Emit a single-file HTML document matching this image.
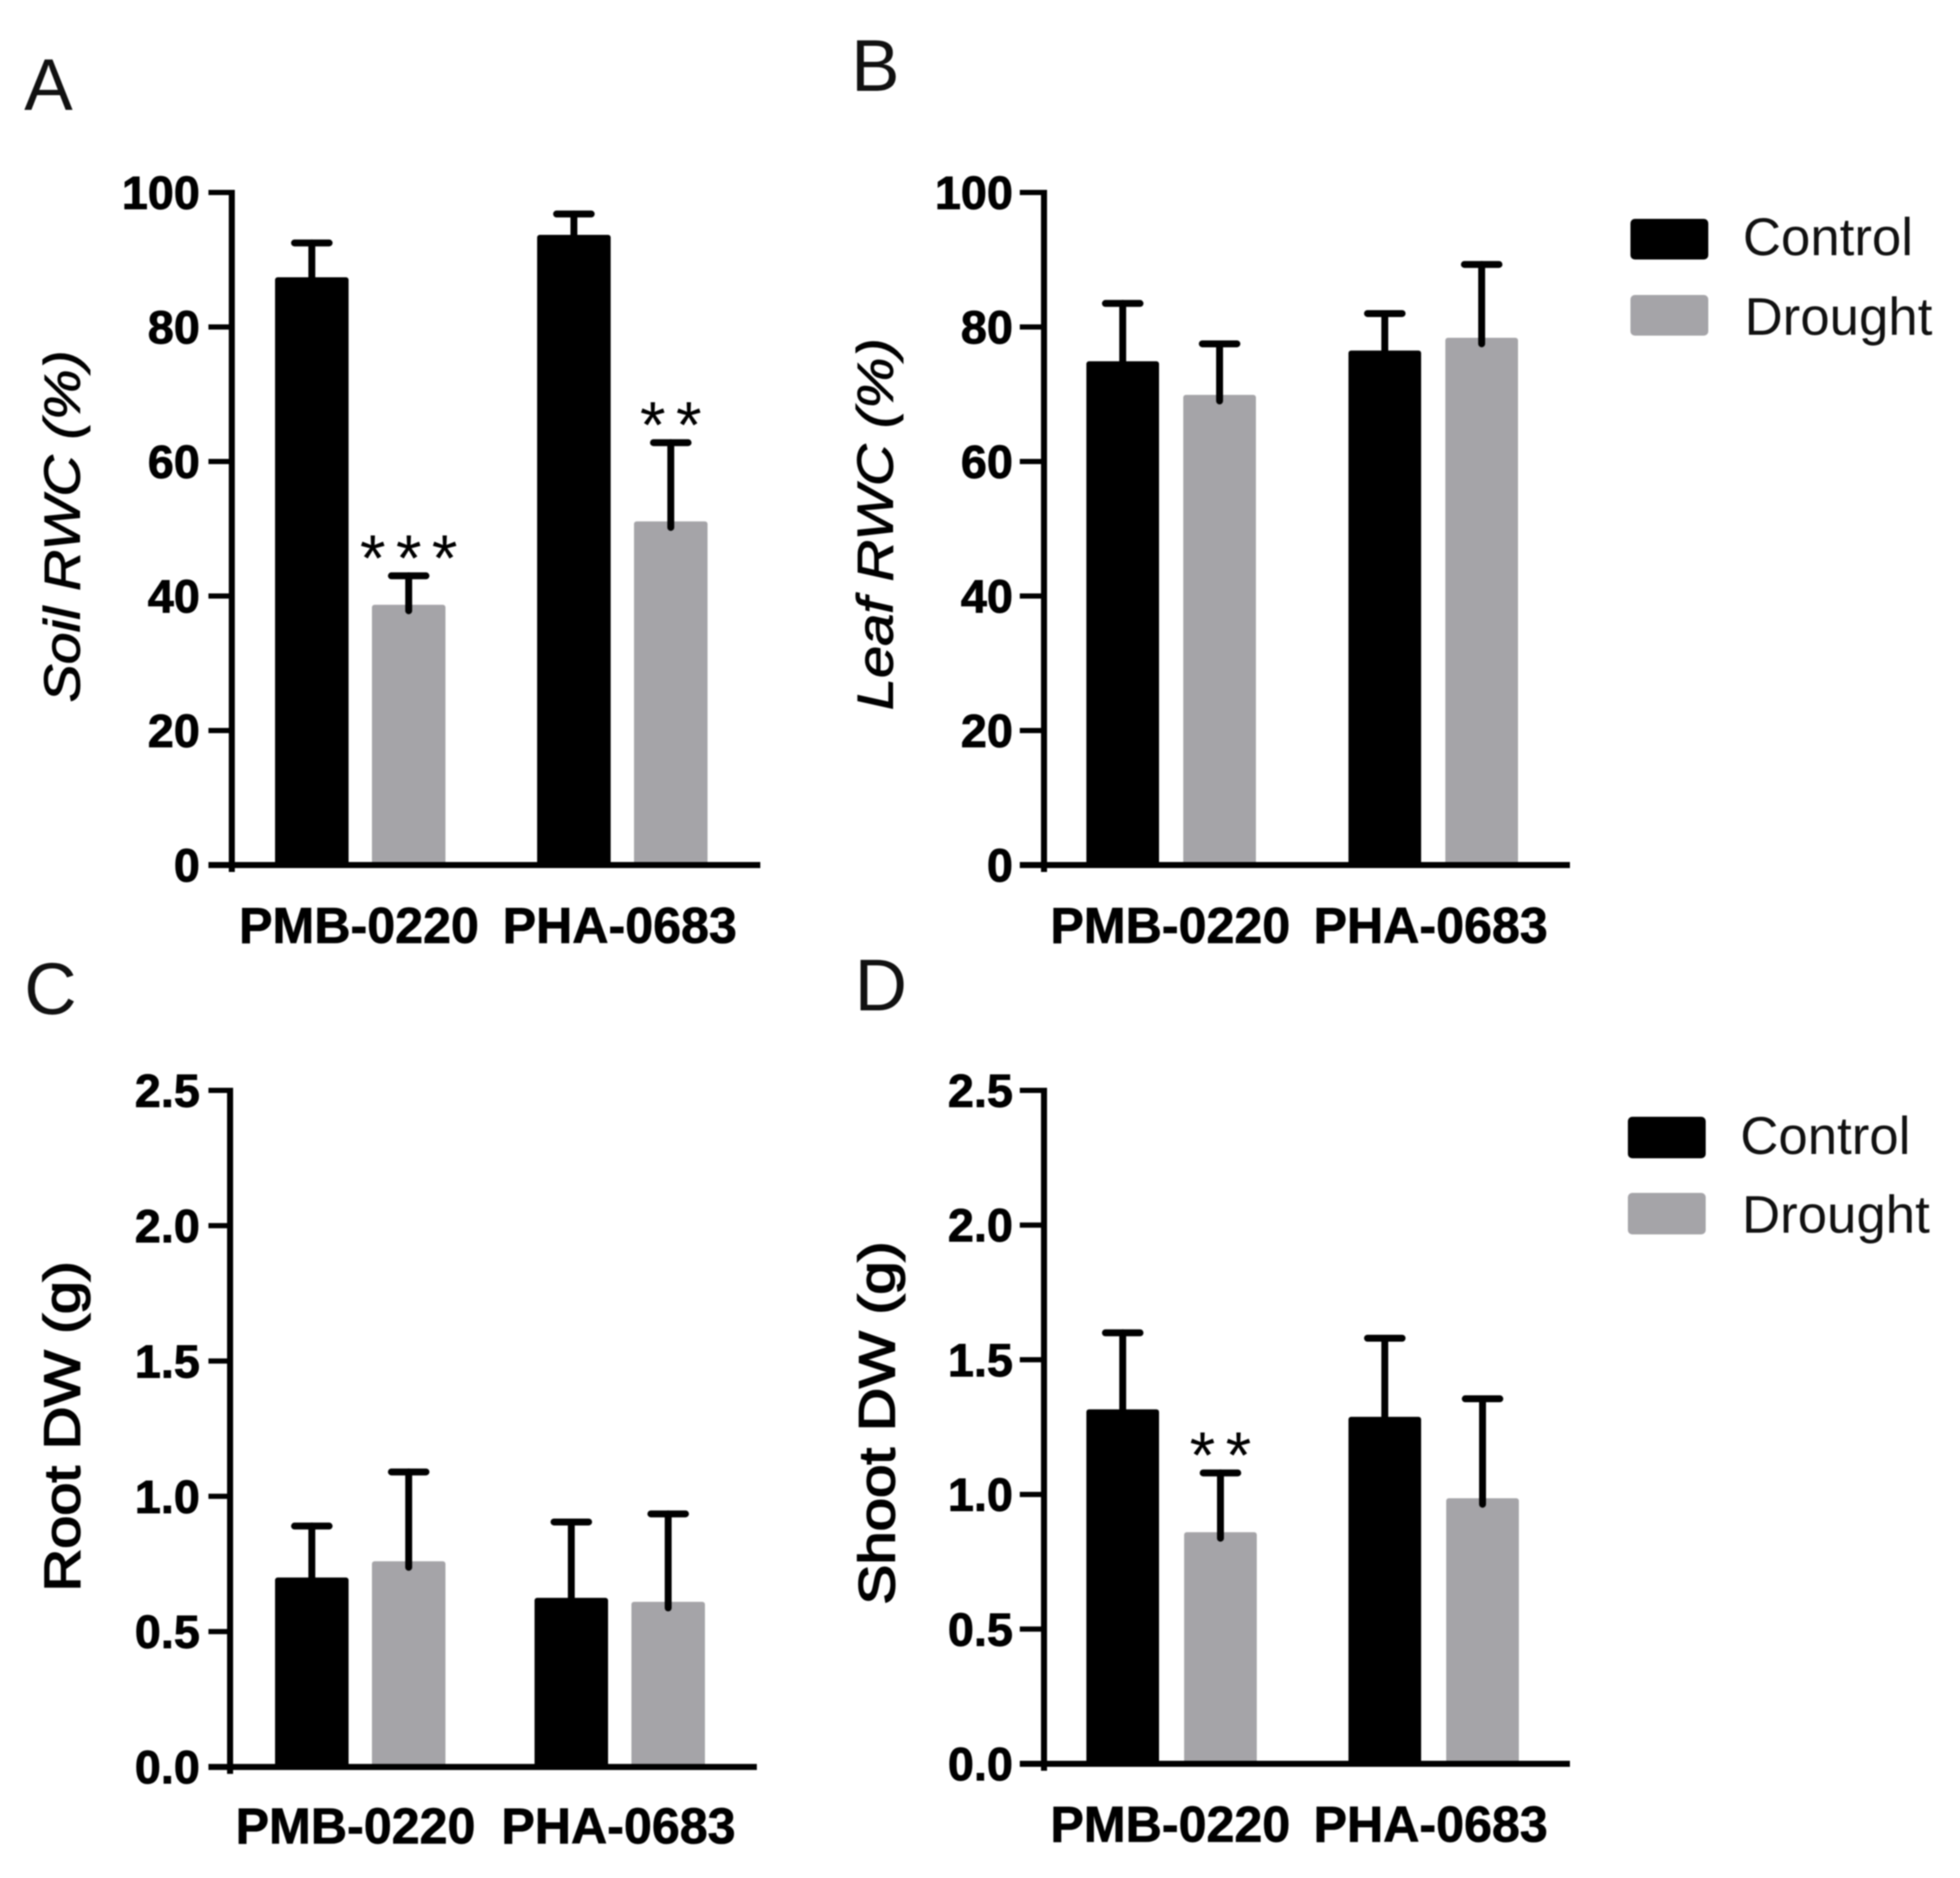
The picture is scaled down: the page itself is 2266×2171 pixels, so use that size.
<!DOCTYPE html>
<html lang="en">
<head>
<meta charset="utf-8">
<title>Soil RWC, Leaf RWC, Root DW and Shoot DW</title>
<style>
  html, body { margin: 0; padding: 0; background: #fff; }
  svg { display: block; filter: blur(0.7px); }
  text { font-family: "Liberation Sans", sans-serif; fill: #000; }
  .panel-letter { font-size: 84px; fill: #111; }
  .y-title { font-size: 58px; stroke: #000; stroke-width: 1px; }
  .y-title.heavy { stroke-width: 1.8px; }
  .legend-text { font-size: 61px; fill: #111; }
  .tick-label { font-size: 54px; font-weight: bold; text-anchor: end; stroke: #000; stroke-width: 1px; }
  .cat-label { font-size: 58px; font-weight: bold; text-anchor: middle; stroke: #000; stroke-width: 0.8px; }
  .star { font-size: 76px; text-anchor: middle; letter-spacing: 12px; }
</style>
</head>
<body>
<svg id="figure" xmlns="http://www.w3.org/2000/svg" width="2266" height="2171" viewBox="0 0 2266 2171">
  <rect x="0" y="0" width="2266" height="2171" fill="#fff"/>

  <text class="panel-letter" x="28" y="127">A</text>
  <text class="panel-letter" x="984" y="105">B</text>
  <text class="panel-letter" x="28" y="1172">C</text>
  <text class="panel-letter" x="988" y="1168">D</text>

  <text class="y-title" transform="translate(92 812) rotate(-90)" textLength="407" lengthAdjust="spacingAndGlyphs" font-style="italic">Soil RWC (%)</text>
  <text class="y-title" transform="translate(1032 821) rotate(-90)" textLength="430" lengthAdjust="spacingAndGlyphs" font-style="italic">Leaf RWC (%)</text>
  <text class="y-title heavy" transform="translate(92 1840) rotate(-90)" textLength="382" lengthAdjust="spacingAndGlyphs">Root DW (g)</text>
  <text class="y-title heavy" transform="translate(1034 1855) rotate(-90)" textLength="420" lengthAdjust="spacingAndGlyphs">Shoot DW (g)</text>

  <g>
    <rect x="1885" y="253" width="90" height="47" rx="5" fill="#000"/>
    <text class="legend-text" x="2015" y="295">Control</text>
    <rect x="1885" y="341" width="90" height="47" rx="5" fill="#a5a4a8"/>
    <text class="legend-text" x="2017" y="387">Drought</text>
  </g>
  <g>
    <rect x="1882" y="1291" width="90" height="48" rx="5" fill="#000"/>
    <text class="legend-text" x="2012" y="1334">Control</text>
    <rect x="1882" y="1379" width="90" height="48" rx="5" fill="#a5a4a8"/>
    <text class="legend-text" x="2014" y="1425">Drought</text>
  </g>
</svg>

<script>
// ---- Chart data ----
const categories = ['PMB-0220', 'PHA-0683'];

const rwcTicks = [0, 20, 40, 60, 80, 100];
const rwcTickLabels = ['0', '20', '40', '60', '80', '100'];
const dwTicks = [0, 0.5, 1, 1.5, 2, 2.5];
const dwTickLabels = ['0.0', '0.5', '1.0', '1.5', '2.0', '2.5'];

const soilControl = [87.4, 93.7];
const soilControlUpper = [92.5, 96.8];
const soilDrought = [38.7, 51.1];
const soilDroughtUpper = [43, 62.8];
const soilDroughtStars = ['***', '**'];

const leafControl = [74.9, 76.5];
const leafControlUpper = [83.5, 82];
const leafDrought = [69.9, 78.4];
const leafDroughtUpper = [77.5, 89.3];
const leafDroughtStars = ['', ''];

const rootControl = [0.70, 0.625];
const rootControlUpper = [0.89, 0.905];
const rootDrought = [0.76, 0.61];
const rootDroughtUpper = [1.09, 0.935];
const rootDroughtStars = ['', ''];

const shootControl = [1.316, 1.288];
const shootControlUpper = [1.60, 1.58];
const shootDrought = [0.86, 0.986];
const shootDroughtUpper = [1.08, 1.355];
const shootDroughtStars = ['**', ''];

// ---- Drawing ----
const SVG_NS = 'http://www.w3.org/2000/svg';
const figure = document.getElementById('figure');
const CONTROL_FILL = '#000';
const DROUGHT_FILL = '#a5a4a8';

function make(parent, tag, attrs, content) {
  const node = document.createElementNS(SVG_NS, tag);
  for (const key in attrs) node.setAttribute(key, attrs[key]);
  if (content !== undefined) node.textContent = content;
  parent.appendChild(node);
  return node;
}

function drawPanel(cfg) {
  const group = make(figure, 'g', {});
  
  

  const yScale = function (v) {
    return cfg.yZero + (cfg.yTop - cfg.yZero) * (v - cfg.domainMin) / (cfg.domainMax - cfg.domainMin);
  };
  const xBar = function (catIndex, seriesIndex) {
    return cfg.barStart + catIndex * cfg.groupStep + seriesIndex * cfg.barStep;
  };

  // bars first, axes on top
  const series = [
    { key: 'control', fill: CONTROL_FILL, values: cfg.control, upper: cfg.controlUpper, stars: ['', ''] },
    { key: 'drought', fill: DROUGHT_FILL, values: cfg.drought, upper: cfg.droughtUpper, stars: cfg.droughtStars }
  ];
  series.forEach(function (s, sIdx) {
    s.values.forEach(function (value, cIdx) {
      const left = xBar(cIdx, sIdx);
      const mid = left + cfg.barWidth / 2;
      const top = yScale(value);
      const whisker = yScale(s.upper[cIdx]);

      const bar = make(group, 'rect', { x: left, y: top, width: cfg.barWidth, height: cfg.yZero - top, rx: 3, fill: s.fill });
      
      

      const stem = make(group, 'line', { x1: mid, x2: mid, y1: top + 7, y2: whisker, stroke: '#000', 'stroke-width': 8, 'stroke-linecap': 'round' });
      
      

      const cap = make(group, 'line', { x1: mid - 20, x2: mid + 20, y1: whisker, y2: whisker, stroke: '#000', 'stroke-width': 8, 'stroke-linecap': 'round' });
      
      

      if (s.stars[cIdx]) {
        const star = make(group, 'text', { class: 'star', x: mid + 6, y: whisker + 6 }, s.stars[cIdx]);
        
        
      }
    });
  });

  // y axis line
  const yAxis = make(group, 'line', { x1: cfg.axisX, x2: cfg.axisX, y1: yScale(cfg.domainMax) - 3, y2: cfg.yZero + 8, stroke: '#000', 'stroke-width': 7 });
  
  

  // x axis line
  const xAxis = make(group, 'line', { x1: cfg.tickLeft, x2: cfg.axisEnd, y1: cfg.yZero, y2: cfg.yZero, stroke: '#000', 'stroke-width': 7 });
  
  

  // y ticks and their labels
  cfg.ticks.forEach(function (t, i) {
    const y = yScale(t);
    const tick = make(group, 'line', { x1: cfg.tickLeft, x2: cfg.axisX, y1: y, y2: y, stroke: '#000', 'stroke-width': 6 });
    
    

    const label = make(group, 'text', { class: 'tick-label', x: cfg.tickLabelRight, y: y + 19 }, cfg.tickLabels[i]);
    
    
  });

  // category labels
  categories.forEach(function (name, i) {
    const cat = make(group, 'text', { class: 'cat-label', x: cfg.catStart + i * cfg.catStep, y: cfg.catBaseline }, name);
    
    
  });
}

drawPanel({
  id: 'soil-rwc', ticks: rwcTicks, tickLabels: rwcTickLabels, domainMin: 0, domainMax: 100,
  control: soilControl, controlUpper: soilControlUpper, drought: soilDrought, droughtUpper: soilDroughtUpper, droughtStars: soilDroughtStars,
  yZero: 1000, yTop: 222.5, axisX: 268, axisEnd: 879, tickLeft: 241, tickLabelRight: 231,
  barStart: 318, groupStep: 303, barStep: 112, barWidth: 85,
  catStart: 415, catStep: 301.5, catBaseline: 1090
});
drawPanel({
  id: 'leaf-rwc', ticks: rwcTicks, tickLabels: rwcTickLabels, domainMin: 0, domainMax: 100,
  control: leafControl, controlUpper: leafControlUpper, drought: leafDrought, droughtUpper: leafDroughtUpper, droughtStars: leafDroughtStars,
  yZero: 1000, yTop: 222.5, axisX: 1207, axisEnd: 1815, tickLeft: 1179, tickLabelRight: 1171,
  barStart: 1256, groupStep: 303, barStep: 112, barWidth: 84,
  catStart: 1353, catStep: 301, catBaseline: 1090
});
drawPanel({
  id: 'root-dw', ticks: dwTicks, tickLabels: dwTickLabels, domainMin: 0, domainMax: 2.5,
  control: rootControl, controlUpper: rootControlUpper, drought: rootDrought, droughtUpper: rootDroughtUpper, droughtStars: rootDroughtStars,
  yZero: 2042.6, yTop: 1260.5, axisX: 266, axisEnd: 875, tickLeft: 241, tickLabelRight: 231,
  barStart: 318, groupStep: 300, barStep: 112, barWidth: 85,
  catStart: 411, catStep: 304, catBaseline: 2131
});
drawPanel({
  id: 'shoot-dw', ticks: dwTicks, tickLabels: dwTickLabels, domainMin: 0, domainMax: 2.5,
  control: shootControl, controlUpper: shootControlUpper, drought: shootDrought, droughtUpper: shootDroughtUpper, droughtStars: shootDroughtStars,
  yZero: 2039, yTop: 1260.5, axisX: 1207, axisEnd: 1815, tickLeft: 1179, tickLabelRight: 1171,
  barStart: 1256, groupStep: 303, barStep: 113, barWidth: 84,
  catStart: 1353, catStep: 301, catBaseline: 2129
});
</script>
</body>
</html>
